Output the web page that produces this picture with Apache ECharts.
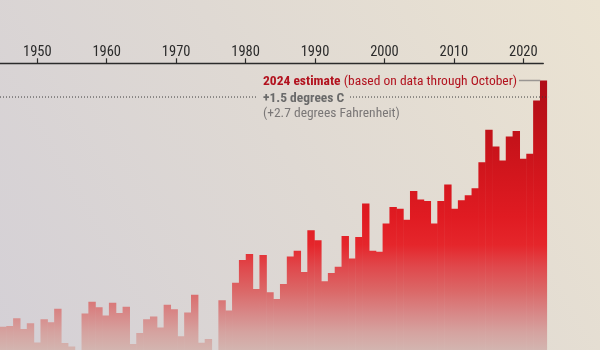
<!DOCTYPE html>
<html>
<head>
<meta charset="utf-8">
<script src="https://cdn.jsdelivr.net/npm/echarts@6/dist/echarts.min.js"></script>
<style>
html,body{margin:0;padding:0;background:#e0dbd4;}
#c{width:600px;height:350px;}
</style>
</head>
<body>
<div id="c"></div>
<script>
(function () {
// Years shown as bars (band scale)
const years = ['1945','1946','1947','1948','1949','1950','1951','1952','1953','1954',
  '1955','1956','1957','1958','1959','1960','1961','1962','1963','1964',
  '1965','1966','1967','1968','1969','1970','1971','1972','1973','1974',
  '1975','1976','1977','1978','1979','1980','1981','1982','1983','1984',
  '1985','1986','1987','1988','1989','1990','1991','1992','1993','1994',
  '1995','1996','1997','1998','1999','2000','2001','2002','2003','2004',
  '2005','2006','2007','2008','2009','2010','2011','2012','2013','2014',
  '2015','2016','2017','2018','2019','2020','2021','2022','2023','2024'];
// Global temperature anomaly, degrees C above pre-industrial
const anomalyC = [0.138,0.142,0.188,0.124,0.158,0.044,0.182,0.164,0.244,0.041,
  0.021,-0.05,0.217,0.286,0.253,0.205,0.280,0.219,0.256,0.036,
  0.101,0.182,0.198,0.133,0.269,0.241,0.081,0.223,0.328,0.043,
  0.065,-0.03,0.295,0.234,0.399,0.534,0.569,0.361,0.563,0.343,
  0.302,0.392,0.554,0.589,0.463,0.710,0.651,0.408,0.456,0.493,
  0.676,0.543,0.670,0.868,0.588,0.582,0.750,0.848,0.838,0.773,
  0.943,0.892,0.883,0.750,0.883,0.982,0.838,0.888,0.917,0.959,
  1.114,1.306,1.207,1.124,1.266,1.298,1.134,1.164,1.479,1.598];
// Year ticks of the top axis
const tickYears = [1950,1960,1970,1980,1990,2000,2010,2020];
const thresholdC = 1.5;
const annotationTitle = '2024 estimate';
const annotationNote = '(based on data through October)';
const annotationC = '+1.5 degrees C';
const annotationF = '(+2.7 degrees Fahrenheit)';

const FONT = "'Liberation Sans Narrow', 'Roboto Condensed', 'Roboto', sans-serif";

const barGradient = {
  type: 'linear', x: 0, y: 0, x2: 0, y2: 350, global: true,
  colorStops: [
    {offset: 0.00, color: '#9c0a14'},
    {offset: 0.23, color: '#b00d18'},
    {offset: 0.37, color: '#c11219'},
    {offset: 0.50, color: '#d3161d'},
    {offset: 0.62, color: '#e01b22'},
    {offset: 0.70, color: '#e5262b'},
    {offset: 0.76, color: '#e0474b'},
    {offset: 0.83, color: '#db6767'},
    {offset: 0.89, color: '#d88585'},
    {offset: 0.95, color: '#d5a3a0'},
    {offset: 1.00, color: '#d3b5b0'}
  ]
};

const chart = echarts.init(document.getElementById('c'), null, {renderer: 'canvas'});

const bgRect = {
  type: 'rect', z: -10, silent: true,
  shape: {x: 0, y: 0, width: 600, height: 350},
  style: {fill: {type: 'linear', x: 0, y: 350, x2: 600, y2: 0, global: true,
    colorStops: [{offset: 0, color: '#d4d0d6'}, {offset: 0.5, color: '#dfd9d3'}, {offset: 1, color: '#ebe3d2'}]}}
};

const option = {
  animation: false,
  backgroundColor: 'transparent',
  grid: [
    {left: -0.3, top: 63.3, width: 547.4, bottom: 0, outerBoundsMode: 'none'},
    {left: 0, top: 63.3, right: 56.7, bottom: 0, outerBoundsMode: 'none'}
  ],
  xAxis: [
    {type: 'category', gridIndex: 0, data: years, show: false, boundaryGap: true},
    {type: 'value', gridIndex: 1, position: 'top', min: 1944.63, max: 2022.88,
     axisLine: {show: true, onZero: false, lineStyle: {color: '#2b2b2b', width: 1.3}},
     axisTick: {show: true, length: 5, customValues: tickYears, lineStyle: {color: '#2b2b2b', width: 1.2}},
     axisLabel: {show: true, customValues: tickYears, margin: 3, color: '#2b2b2b',
       fontSize: 14.5, fontFamily: FONT, formatter: v => String(v)},
     splitLine: {show: false}}
  ],
  yAxis: [
    {type: 'value', gridIndex: 0, min: 0, max: 1.7, show: false},
    {type: 'value', gridIndex: 1, min: 0, max: 1, show: false}
  ],
  graphic: [bgRect],
  series: [{
    type: 'bar', xAxisIndex: 0, yAxisIndex: 0,
    data: anomalyC, barWidth: 7.4, barGap: '-100%',
    itemStyle: {color: barGradient},
    silent: true
  }]
};
chart.setOption(option);

// annotations placed from the scales
const lastIdx = years.length - 1;
const topPt = chart.convertToPixel({seriesIndex: 0}, [years[lastIdx], anomalyC[lastIdx]]);
const prevPt = chart.convertToPixel({seriesIndex: 0}, [years[lastIdx - 1], anomalyC[lastIdx - 1]]);
const band = topPt[0] - prevPt[0];
const barLeft = topPt[0] - band / 2;
const barRight = topPt[0] + band / 2;
const yLine = chart.convertToPixel({yAxisIndex: 0}, thresholdC);

chart.setOption({
  graphic: [
    bgRect,
    {type: 'line', z: 50, silent: true, shape: {x1: 0, y1: yLine, x2: 258, y2: yLine},
     style: {stroke: '#3a3a3a', lineWidth: 1, lineDash: [1, 2]}},
    {type: 'line', z: 50, silent: true, shape: {x1: 350, y1: yLine, x2: barRight + 1, y2: yLine},
     style: {stroke: '#3a3a3a', lineWidth: 1, lineDash: [1, 2]}},
    {type: 'line', z: 50, silent: true, shape: {x1: 519, y1: topPt[1], x2: barLeft, y2: topPt[1]},
     style: {stroke: '#9a9693', lineWidth: 1.5}},
    {type: 'text', z: 50, silent: true, x: 263, y: topPt[1] + 1.5,
     style: {text: '{b|' + annotationTitle + '} {r|' + annotationNote + '}', verticalAlign: 'middle',
       rich: {
         b: {font: "bold 13.5px " + FONT, fill: '#b2121e'},
         r: {font: "13.5px " + FONT, fill: '#b2121e'}
       }}},
    {type: 'text', z: 50, silent: true, x: 263, y: yLine + 1.3,
     style: {text: annotationC, verticalAlign: 'middle', font: "bold 13.5px " + FONT, fill: '#6a6a6a'}},
    {type: 'text', z: 50, silent: true, x: 263, y: yLine + 16.7,
     style: {text: annotationF, verticalAlign: 'middle', font: "13.5px " + FONT, fill: '#7a7777'}}
  ]
});
})();
</script>
</body>
</html>
